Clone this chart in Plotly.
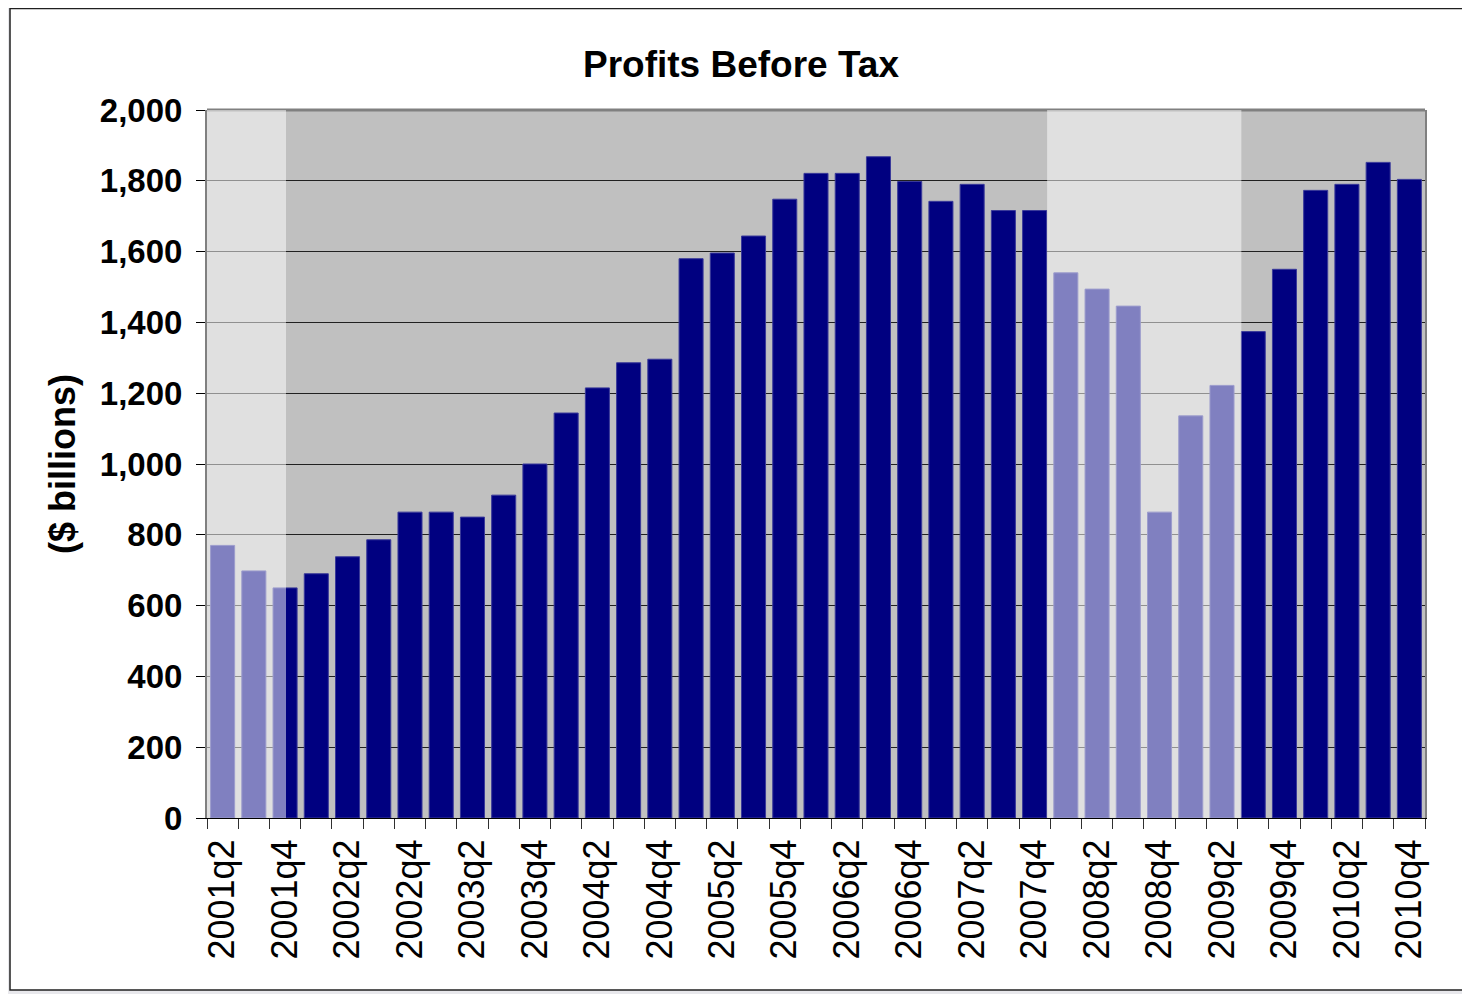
import plotly.graph_objects as go

quarters = ["2001q2", "2001q3", "2001q4"] + [f"{y}q{q}" for y in range(2002, 2011) for q in range(1, 5)]
profits = [770, 698, 650, 690, 738, 786, 864, 864, 850, 912, 1000,
           1144, 1215, 1286, 1296, 1580, 1596, 1644, 1748, 1821, 1821,
           1868, 1798, 1742, 1790, 1716, 1716, 1540, 1494, 1446, 864,
           1136, 1222, 1374, 1550, 1773, 1790, 1852, 1804]
tick_text = [q if i % 2 == 0 else "" for i, q in enumerate(quarters)]
recessions = [(-0.5, 2.03), (26.4, 32.62)]
y_ticks = list(range(0, 2001, 200))

# page adds an 8px body margin; figure coordinates = reference - 8
W, H = 1462, 986
L, T = 199, 102
R = W - 1417
B = H - 810
pw, ph = W - L - R, H - T - B

def px_x(p):
    return (p - L) / pw

def px_y(p):
    return (T + ph - p) / ph

fig = go.Figure()
fig.add_trace(go.Bar(
    x=quarters, y=profits,
    marker=dict(color="#000080", line=dict(color="#3A3A9A", width=1)),
    hoverinfo="x+y",
))

shapes = []
shapes.append(dict(type="rect", xref="paper", yref="paper",
                   x0=px_x(2), x1=px_x(1457), y0=px_y(982), y1=px_y(0.5),
                   fillcolor="white", line=dict(color="#202020", width=1.5), layer="below"))
shapes.append(dict(type="rect", xref="paper", yref="paper", x0=0, x1=1, y0=0, y1=1,
                   fillcolor="#C0C0C0", line=dict(width=0), layer="below"))
shapes.append(dict(type="line", xref="paper", yref="paper", x0=0, x1=1, y0=1, y1=1,
                   line=dict(color="#808080", width=3), layer="above"))
for x0, x1 in recessions:
    shapes.append(dict(type="rect", xref="x", yref="paper", x0=x0, x1=x1, y0=0, y1=1,
                       fillcolor="white", opacity=0.5, line=dict(width=0), layer="above"))

fig.update_layout(
    width=W, height=H,
    margin=dict(l=L, r=R, t=T, b=B, pad=0),
    paper_bgcolor="#E8E8EC",
    plot_bgcolor="rgba(0,0,0,0)",
    font=dict(family="Liberation Sans, Arial, sans-serif", color="black"),
    title=dict(text="<b>Profits Before Tax</b>", x=px_x(733), xanchor="center",
               xref="paper", y=1 - 56 / H, yanchor="middle", font=dict(size=37)),
    bargap=0.23,
    showlegend=False,
    shapes=shapes,
    xaxis=dict(type="category", tickmode="array", tickvals=quarters, ticktext=tick_text,
               tickson="boundaries", ticks="outside", ticklen=10, tickcolor="#303030",
               tickangle=-90, tickfont=dict(size=36), showgrid=False,
               showline=True, linecolor="#000000", linewidth=1,
               range=[-0.5, len(quarters) - 0.5], ticklabelstandoff=6),
    yaxis=dict(range=[0, 2000], tickvals=y_ticks, tickformat=",d",
               ticks="outside", ticklen=9, tickcolor="#000000",
               tickfont=dict(size=33, weight="bold"),
               showgrid=True, gridcolor="#202020", gridwidth=1,
               showline=True, mirror=True, linecolor="#808080", linewidth=2,
               zeroline=False, ticklabelstandoff=7,
               title=dict(text="($ billions)", font=dict(size=36, weight="bold"), standoff=13)),
)

fig.write_html("out.html")
